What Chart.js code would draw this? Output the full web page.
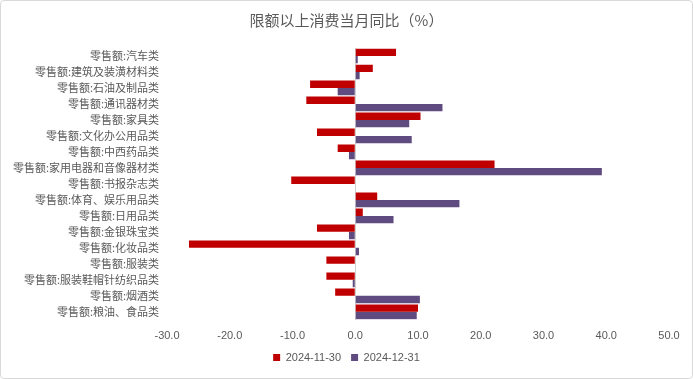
<!DOCTYPE html>
<html>
<head>
<meta charset="utf-8">
<script src="https://cdn.jsdelivr.net/npm/chart.js@4.4.1/dist/chart.umd.min.js"></script>
<style>
  html, body { margin: 0; padding: 0; background: #fff; }
  #box { width: 693px; height: 379px; box-sizing: border-box; border: 1px solid #d9d9d9; border-radius: 4px; position: relative; }
  #box canvas { position: absolute; left: 0; top: 0; }
</style>
</head>
<body>
<div id="box"><canvas id="chart1" width="691" height="377"></canvas></div>
<script>
// categories, top to bottom
const categories = [
  '零售额:汽车类',
  '零售额:建筑及装潢材料类',
  '零售额:石油及制品类',
  '零售额:通讯器材类',
  '零售额:家具类',
  '零售额:文化办公用品类',
  '零售额:中西药品类',
  '零售额:家用电器和音像器材类',
  '零售额:书报杂志类',
  '零售额:体育、娱乐用品类',
  '零售额:日用品类',
  '零售额:金银珠宝类',
  '零售额:化妆品类',
  '零售额:服装类',
  '零售额:服装鞋帽针纺织品类',
  '零售额:烟酒类',
  '零售额:粮油、食品类'
];

const nov = [6.5, 2.8, -7.2, -7.8, 10.4, -6.1, -2.8, 22.2, -10.2, 3.5, 1.2, -6.1, -26.5, -4.6, -4.6, -3.2, 10.0];
const dec = [0.4, 0.7, -2.8, 13.9, 8.6, 9.0, -1.0, 39.3, 0, 16.6, 6.1, -1.0, 0.6, 0, -0.4, 10.3, 9.8];

const seriesNames = ['2024-11-30', '2024-12-31'];
const xMin = -30, xMax = 50, xStep = 10;

const grey = '#595959';
const cjk = '"Noto Sans CJK SC", "Microsoft YaHei", sans-serif';

let ctx = document.getElementById('chart1');
let myChart1 = new Chart(ctx, {
  type: 'bar',
  data: {
    labels: categories,
    datasets: [
      { label: seriesNames[0], data: nov, backgroundColor: '#c00000', categoryPercentage: 0.92, barPercentage: 1.0 },
      { label: seriesNames[1], data: dec, backgroundColor: '#5f4b7f', categoryPercentage: 0.92, barPercentage: 1.0 }
    ]
  },
  options: {
    indexAxis: 'y',
    responsive: false,
    animation: false,
    layout: { padding: { left: 0, right: 0, top: 6, bottom: 5 } },
    plugins: {
      title: {
        display: true,
        text: '限额以上消费当月同比（%）',
        color: grey,
        font: { family: cjk, size: 15, weight: 'normal' },
        padding: { top: 4, bottom: 19 }
      },
      legend: {
        position: 'bottom',
        labels: {
          color: grey,
          font: { family: '"Liberation Sans", sans-serif', size: 11 },
          boxWidth: 7,
          boxHeight: 7,
          padding: 10
        }
      },
      tooltip: { enabled: false }
    },
    scales: {
      x: {
        min: xMin,
        max: xMax,
        ticks: {
          stepSize: xStep,
          color: grey,
          font: { family: '"Liberation Sans", sans-serif', size: 11 },
          padding: 10,
          callback: function(v) { return Number(v).toFixed(1); }
        },
        grid: {
          drawTicks: false,
          lineWidth: 1,
          color: function(c) { return c.tick && c.tick.value === 0 ? '#d0d0d0' : 'rgba(0,0,0,0)'; }
        },
        border: { display: false },
        // plot's right edge where the original has it (title/legend stay centred),
        // and pull the legend up closer to the tick labels
        afterFit: function(axis) {
          axis.paddingRight = 23;
          axis.height -= 11;
        }
      },
      y: {
        ticks: {
          color: grey,
          font: { family: cjk, size: 11 },
          padding: 8,
          autoSkip: false
        },
        grid: { display: false, drawTicks: false },
        border: { display: false },
        afterFit: function(axis) { axis.width = 166; }
      }
    }
  }
});
</script>
</body>
</html>
